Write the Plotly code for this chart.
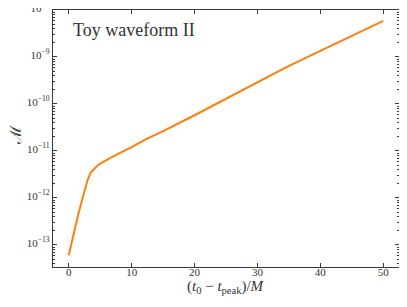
import plotly.graph_objects as go

# Data (t0 - t_peak)/M vs mismatch
t_vals = [0, 0.5, 1, 1.5, 2, 2.5, 3, 3.5, 4, 4.5, 5, 6, 7, 8, 10, 12, 15,
          20, 25, 30, 35, 40, 45, 50]
mismatch = [6.03e-14, 1.20e-13, 2.29e-13, 4.37e-13, 7.94e-13, 1.45e-12,
            2.40e-12, 3.47e-12, 4.17e-12, 4.79e-12, 5.37e-12, 6.46e-12,
            7.59e-12, 8.91e-12, 1.20e-11, 1.70e-11, 2.63e-11, 5.75e-11,
            1.29e-10, 2.88e-10, 6.46e-10, 1.35e-9, 2.82e-9, 5.89e-9]

x_ticks = [0, 10, 20, 30, 40, 50]
y_exps = [-13, -12, -11, -10, -9, -8]
y_tickvals = [10.0 ** e for e in y_exps]
y_ticktext = ["10<sup>\u2212%d</sup>" % (-e) for e in y_exps]
y_minor = [m * 10.0 ** e for e in range(-14, -8) for m in range(2, 10)]

FONT = "Liberation Serif, DejaVu Serif, serif"
AX = "#3a3a3a"
TXT = "#333333"

fig = go.Figure()
fig.add_trace(go.Scatter(x=t_vals, y=mismatch, mode="lines",
                         line=dict(color="#ff7f0e", width=2),
                         showlegend=False))

# the page body adds an 8px margin, so the figure is sized to fit inside it
fig.update_layout(
    width=391, height=291,
    margin=dict(l=45, r=0, t=2, b=32),
    paper_bgcolor="white", plot_bgcolor="white",
    font=dict(family=FONT, color=TXT, size=11),
    annotations=[
        dict(text="Toy waveform II", xref="paper", yref="paper",
             x=0.052, y=0.922, xanchor="left", yanchor="middle",
             showarrow=False, font=dict(size=18, family=FONT, color=TXT)),
        dict(text="(<i>t</i><sub>0</sub> \u2212 <i>t</i><sub>peak</sub>)/<i>M</i>",
             xref="paper", yref="paper", x=0.5, y=-0.078, xanchor="center",
             yanchor="middle", showarrow=False, font=dict(size=15, family=FONT, color=TXT)),
        dict(text="\u2133", xref="paper", yref="paper", x=-0.108, y=0.514,
             xanchor="center", yanchor="middle", textangle=-90, showarrow=False,
             font=dict(size=16, family=FONT, color=TXT)),
    ],
)
fig.update_xaxes(
    range=[-2.5, 52.5], tickvals=x_ticks, ticks="inside", ticklen=4, tickwidth=1,
    tickcolor=AX, showline=True, linecolor=AX, linewidth=1.2, mirror="ticks",
    showgrid=False, zeroline=False, automargin=False, ticklabelstandoff=-5,
)
fig.update_yaxes(
    type="log", range=[-13.47, -8.0], tickvals=y_tickvals, ticktext=y_ticktext,
    ticks="inside", ticklen=4, tickwidth=1, tickcolor=AX, showline=True,
    linecolor=AX, linewidth=1.2, mirror="ticks", showgrid=False, zeroline=False,
    automargin=False, ticklabeloverflow="allow", ticklabelshift=-2,
    minor=dict(ticks="inside", ticklen=2, tickcolor=AX, tickvals=y_minor, showgrid=False),
)

fig.write_html("out.html")
